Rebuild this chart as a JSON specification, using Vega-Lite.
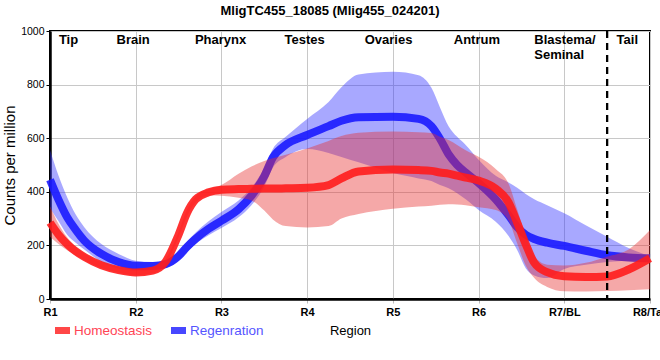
{
  "$schema": "https://vega.github.io/schema/vega-lite/v6.json",
  "autosize": {"type": "none"},
  "padding": {"left": 50, "top": 31, "right": 10, "bottom": 61},
  "width": 600,
  "height": 268,
  "background": "white",
  "title": {
    "text": "MligTC455_18085 (Mlig455_024201)",
    "font": "Liberation Sans",
    "fontSize": 13,
    "fontWeight": "bold",
    "color": "black",
    "anchor": "middle",
    "frame": "group",
    "dx": -20,
    "offset": 8.5
  },
  "config": {
    "view": {"stroke": "black", "strokeWidth": 2},
    "axis": {"gridColor": "#c8c8c8", "gridWidth": 1}
  },
  "datasets": {
    "curves": [
      {"x":1.0,"g":"Homeostasis","lo":232,"mid":285,"hi":345},
      {"x":1.1,"g":"Homeostasis","lo":205,"mid":240,"hi":280},
      {"x":1.2,"g":"Homeostasis","lo":182,"mid":205,"hi":230},
      {"x":1.3,"g":"Homeostasis","lo":162,"mid":178,"hi":195},
      {"x":1.4,"g":"Homeostasis","lo":145,"mid":157,"hi":170},
      {"x":1.6,"g":"Homeostasis","lo":116,"mid":126,"hi":137},
      {"x":1.8,"g":"Homeostasis","lo":98,"mid":108,"hi":118},
      {"x":2.0,"g":"Homeostasis","lo":89,"mid":99,"hi":109},
      {"x":2.2,"g":"Homeostasis","lo":96,"mid":106,"hi":116},
      {"x":2.35,"g":"Homeostasis","lo":130,"mid":140,"hi":150},
      {"x":2.5,"g":"Homeostasis","lo":230,"mid":240,"hi":250},
      {"x":2.6,"g":"Homeostasis","lo":310,"mid":322,"hi":335},
      {"x":2.7,"g":"Homeostasis","lo":360,"mid":372,"hi":383},
      {"x":2.85,"g":"Homeostasis","lo":386,"mid":398,"hi":410},
      {"x":3.0,"g":"Homeostasis","lo":385,"mid":408,"hi":425},
      {"x":3.2,"g":"Homeostasis","lo":378,"mid":410,"hi":467},
      {"x":3.35,"g":"Homeostasis","lo":368,"mid":411,"hi":494},
      {"x":3.5,"g":"Homeostasis","lo":330,"mid":412,"hi":515},
      {"x":3.6,"g":"Homeostasis","lo":297,"mid":412,"hi":525},
      {"x":3.75,"g":"Homeostasis","lo":272,"mid":413,"hi":538},
      {"x":4.0,"g":"Homeostasis","lo":267,"mid":415,"hi":562},
      {"x":4.25,"g":"Homeostasis","lo":272,"mid":425,"hi":590},
      {"x":4.4,"g":"Homeostasis","lo":300,"mid":450,"hi":608},
      {"x":4.6,"g":"Homeostasis","lo":317,"mid":476,"hi":620},
      {"x":5.0,"g":"Homeostasis","lo":337,"mid":483,"hi":625},
      {"x":5.3,"g":"Homeostasis","lo":345,"mid":481,"hi":622},
      {"x":5.45,"g":"Homeostasis","lo":348,"mid":478,"hi":619},
      {"x":5.55,"g":"Homeostasis","lo":352,"mid":472,"hi":605},
      {"x":5.65,"g":"Homeostasis","lo":354,"mid":468,"hi":593},
      {"x":5.75,"g":"Homeostasis","lo":353,"mid":460,"hi":575},
      {"x":5.85,"g":"Homeostasis","lo":350,"mid":453,"hi":555},
      {"x":6.0,"g":"Homeostasis","lo":342,"mid":442,"hi":531},
      {"x":6.2,"g":"Homeostasis","lo":332,"mid":412,"hi":485},
      {"x":6.35,"g":"Homeostasis","lo":293,"mid":360,"hi":430},
      {"x":6.45,"g":"Homeostasis","lo":208,"mid":285,"hi":335},
      {"x":6.55,"g":"Homeostasis","lo":125,"mid":205,"hi":235},
      {"x":6.65,"g":"Homeostasis","lo":78,"mid":135,"hi":160},
      {"x":6.8,"g":"Homeostasis","lo":45,"mid":100,"hi":128},
      {"x":7.0,"g":"Homeostasis","lo":29,"mid":85,"hi":125},
      {"x":7.25,"g":"Homeostasis","lo":28,"mid":82,"hi":135},
      {"x":7.5,"g":"Homeostasis","lo":30,"mid":84,"hi":158},
      {"x":7.75,"g":"Homeostasis","lo":33,"mid":110,"hi":185},
      {"x":8.0,"g":"Homeostasis","lo":36,"mid":152,"hi":257},
      {"x":1.0,"g":"Regenration","lo":340,"mid":445,"hi":556},
      {"x":1.1,"g":"Regenration","lo":290,"mid":370,"hi":460},
      {"x":1.2,"g":"Regenration","lo":240,"mid":305,"hi":380},
      {"x":1.3,"g":"Regenration","lo":210,"mid":258,"hi":315},
      {"x":1.4,"g":"Regenration","lo":185,"mid":218,"hi":268},
      {"x":1.6,"g":"Regenration","lo":138,"mid":168,"hi":205},
      {"x":1.8,"g":"Regenration","lo":114,"mid":138,"hi":168},
      {"x":2.0,"g":"Regenration","lo":106,"mid":124,"hi":143},
      {"x":2.2,"g":"Regenration","lo":108,"mid":123,"hi":138},
      {"x":2.35,"g":"Regenration","lo":116,"mid":130,"hi":145},
      {"x":2.5,"g":"Regenration","lo":143,"mid":160,"hi":178},
      {"x":2.6,"g":"Regenration","lo":176,"mid":195,"hi":215},
      {"x":2.7,"g":"Regenration","lo":205,"mid":225,"hi":248},
      {"x":2.85,"g":"Regenration","lo":238,"mid":262,"hi":290},
      {"x":3.0,"g":"Regenration","lo":265,"mid":292,"hi":325},
      {"x":3.2,"g":"Regenration","lo":305,"mid":335,"hi":368},
      {"x":3.35,"g":"Regenration","lo":350,"mid":385,"hi":415},
      {"x":3.5,"g":"Regenration","lo":420,"mid":458,"hi":490},
      {"x":3.6,"g":"Regenration","lo":490,"mid":528,"hi":560},
      {"x":3.75,"g":"Regenration","lo":530,"mid":575,"hi":605},
      {"x":4.0,"g":"Regenration","lo":560,"mid":612,"hi":672},
      {"x":4.25,"g":"Regenration","lo":545,"mid":645,"hi":735},
      {"x":4.4,"g":"Regenration","lo":530,"mid":665,"hi":790},
      {"x":4.6,"g":"Regenration","lo":510,"mid":678,"hi":838},
      {"x":5.0,"g":"Regenration","lo":470,"mid":680,"hi":848},
      {"x":5.3,"g":"Regenration","lo":450,"mid":672,"hi":835},
      {"x":5.45,"g":"Regenration","lo":440,"mid":645,"hi":788},
      {"x":5.55,"g":"Regenration","lo":425,"mid":598,"hi":715},
      {"x":5.65,"g":"Regenration","lo":413,"mid":540,"hi":645},
      {"x":5.75,"g":"Regenration","lo":395,"mid":500,"hi":605},
      {"x":5.85,"g":"Regenration","lo":372,"mid":472,"hi":575},
      {"x":6.0,"g":"Regenration","lo":332,"mid":433,"hi":520},
      {"x":6.2,"g":"Regenration","lo":288,"mid":372,"hi":460},
      {"x":6.35,"g":"Regenration","lo":235,"mid":312,"hi":435},
      {"x":6.45,"g":"Regenration","lo":183,"mid":268,"hi":415},
      {"x":6.55,"g":"Regenration","lo":115,"mid":240,"hi":392},
      {"x":6.65,"g":"Regenration","lo":88,"mid":224,"hi":372},
      {"x":6.8,"g":"Regenration","lo":78,"mid":210,"hi":350},
      {"x":7.0,"g":"Regenration","lo":112,"mid":198,"hi":320},
      {"x":7.25,"g":"Regenration","lo":128,"mid":180,"hi":275},
      {"x":7.5,"g":"Regenration","lo":138,"mid":163,"hi":232},
      {"x":7.75,"g":"Regenration","lo":144,"mid":155,"hi":190},
      {"x":8.0,"g":"Regenration","lo":147,"mid":152,"hi":160}
    ],
    "regions": [
      {"x":1.216,"label":["Tip"],"align":"center"},
      {"x":1.97,"label":["Brain"],"align":"center"},
      {"x":2.99,"label":["Pharynx"],"align":"center"},
      {"x":3.97,"label":["Testes"],"align":"center"},
      {"x":4.95,"label":["Ovaries"],"align":"center"},
      {"x":5.98,"label":["Antrum"],"align":"center"},
      {"x":6.65,"label":["Blastema/","Seminal"],"align":"left"},
      {"x":7.735,"label":["Tail"],"align":"center"}
    ],
    "vline": [{"x":7.5}]
  },
  "layer": [
    {
      "data": {"name": "curves"},
      "transform": [{"filter": "datum.g === 'Regenration'"}],
      "mark": {"type": "area", "interpolate": "monotone", "color": "#3030ff", "opacity": 0.42},
      "encoding": {
        "x": {"field": "x", "type": "quantitative", "scale": {"domain": [1, 8], "nice": false},
          "axis": {"values": [1,2,3,4,5,6,7,8], "labelExpr": "['R1','R2','R3','R4','R5','R6','R7/BL','R8/Tail'][datum.value-1]",
            "title": "Region", "titleFont": "Liberation Sans", "titleFontSize": 13, "titleFontWeight": "normal", "titleColor": "black", "titlePadding": 7,
            "labelFont": "Liberation Sans", "labelFontSize": 11, "labelFontWeight": "bold", "labelColor": "black", "labelPadding": 3,
            "domainColor": "black", "domainWidth": 2.5, "tickColor": "#bbbbbb", "tickSize": 4, "grid": true, "labelFlush": false, "labelOverlap": false}},
        "y": {"field": "lo", "type": "quantitative", "scale": {"domain": [0, 1000], "nice": false},
          "axis": {"values": [0,100,200,300,400,500,600,700,800,900,1000], "format": "d", "title": "Counts per million",
            "titleFont": "Liberation Sans", "titleFontSize": 15, "titleFontWeight": "normal", "titleColor": "black", "titlePadding": 3,
            "labelFont": "Liberation Sans", "labelFontSize": 10.5, "labelColor": "black", "labelPadding": 2,
            "domainColor": "black", "domainWidth": 2.5, "tickColor": "black", "tickSize": 4, "grid": true}},
        "y2": {"field": "hi"}
      }
    },
    {
      "data": {"name": "curves"},
      "transform": [{"filter": "datum.g === 'Regenration'"}],
      "mark": {"type": "line", "interpolate": "monotone", "strokeWidth": 8, "opacity": 0.9},
      "encoding": {
        "x": {"field": "x", "type": "quantitative"},
        "y": {"field": "mid", "type": "quantitative"},
        "color": {"field": "g", "type": "nominal",
          "scale": {"domain": ["Homeostasis", "Regenration"], "range": ["#ff1c1c", "#1a1aff"]},
          "legend": {"title": null, "orient": "none", "legendX": 5, "legendY": 292, "direction": "horizontal",
            "symbolType": "M-1,-0.47H1V0.47H-1Z", "symbolSize": 225, "symbolOpacity": 1, "symbolStrokeWidth": 0,
            "symbolFillColor": {"expr": "datum.value === 'Homeostasis' ? '#ff3333' : '#3333ff'"},
            "labelFont": "Liberation Sans", "labelFontSize": 13.5, "labelOffset": 4, "columnPadding": 18,
            "labelColor": {"expr": "datum.value === 'Homeostasis' ? '#ff4455' : '#5555ff'"}}}
      }
    },
    {
      "data": {"name": "curves"},
      "transform": [{"filter": "datum.g === 'Homeostasis'"}],
      "mark": {"type": "area", "interpolate": "monotone", "color": "#e83030", "opacity": 0.42},
      "encoding": {
        "x": {"field": "x", "type": "quantitative"},
        "y": {"field": "lo", "type": "quantitative"},
        "y2": {"field": "hi"}
      }
    },
    {
      "data": {"name": "curves"},
      "transform": [{"filter": "datum.g === 'Homeostasis'"}],
      "mark": {"type": "line", "interpolate": "monotone", "strokeWidth": 8, "opacity": 0.9},
      "encoding": {
        "x": {"field": "x", "type": "quantitative"},
        "y": {"field": "mid", "type": "quantitative"},
        "color": {"field": "g", "type": "nominal"}
      }
    },
    {
      "data": {"name": "vline"},
      "mark": {"type": "rule", "color": "black", "strokeWidth": 2.3, "strokeDash": [7, 5]},
      "encoding": {"x": {"field": "x", "type": "quantitative"}}
    },
    {
      "data": {"name": "regions"},
      "transform": [{"filter": "datum.align === 'center'"}],
      "mark": {"type": "text", "font": "Liberation Sans", "fontSize": 13, "fontWeight": "bold", "color": "black", "baseline": "alphabetic", "align": "center", "lineHeight": 14.5},
      "encoding": {
        "x": {"field": "x", "type": "quantitative"},
        "y": {"datum": 951, "type": "quantitative"},
        "text": {"field": "label"}
      }
    },
    {
      "data": {"name": "regions"},
      "transform": [{"filter": "datum.align === 'left'"}],
      "mark": {"type": "text", "font": "Liberation Sans", "fontSize": 13, "fontWeight": "bold", "color": "black", "baseline": "alphabetic", "align": "left", "lineHeight": 14.5},
      "encoding": {
        "x": {"field": "x", "type": "quantitative"},
        "y": {"datum": 951, "type": "quantitative"},
        "text": {"field": "label"}
      }
    }
  ]
}
